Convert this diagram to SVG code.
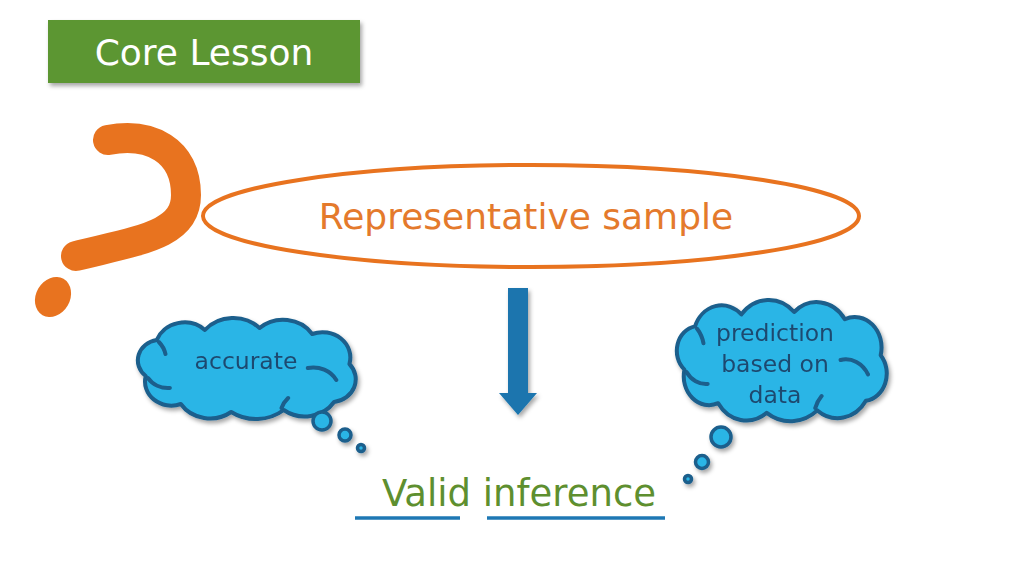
<svg xmlns="http://www.w3.org/2000/svg" width="1024" height="576" viewBox="0 0 1024 576">
<style>
.txt{font-family:"DejaVu Sans","Noto Sans",sans-serif}
.cloud{fill:#2bb5e6;stroke:#1a5e8c;stroke-width:4;stroke-linejoin:round}
.crease{fill:none;stroke:#1a5e8c;stroke-width:4;stroke-linecap:round}
.bub{fill:#2bb5e6;stroke:#1a5e8c;stroke-width:3.5}
.ctext{fill:#1f4a70;font-size:23.5px;text-anchor:middle}
.uline{stroke:#1e78b4;stroke-width:3.5}
</style>
<defs>
<filter id="sh" x="-10%" y="-10%" width="130%" height="140%">
<feDropShadow dx="2" dy="3" stdDeviation="2" flood-color="#000" flood-opacity="0.35"/>
</filter>
<path id="cloudShape" vector-effect="non-scaling-stroke" d="M8,58 A20.6,20.6 0 0 1 18,22 A27,27 0 0 1 62,12 A34,34 0 0 1 112,10 A32,32 0 0 1 160,16 A25.4,25.4 0 0 1 194,46 A23,23 0 0 1 180,84 A32,32 0 0 1 134,92 A40,40 0 0 1 86,94 A32,32 0 0 1 40,86 A24,24 0 0 1 8,58 Z"/>
<path id="creases" vector-effect="non-scaling-stroke" d="M156,50 A24,24 0 0 1 182,62 M10,60 A22,22 0 0 0 30,70 M20,24 A26,26 0 0 1 26,36 M132,90 A26,26 0 0 1 138,80"/>
</defs>

<g id="core-lesson">
<rect x="48" y="20" width="312" height="63" fill="#5b9633" filter="url(#sh)"/>
<text class="txt" x="204" y="65" font-size="36" fill="#ffffff" text-anchor="middle">Core Lesson</text>
</g>

<g id="question-mark" fill="none" stroke="#e8731f">
<path d="M108,140 C150,132 186,150 186,195 C186,235 140,240 76,256" stroke-width="30" stroke-linecap="round"/>
<ellipse cx="53" cy="297" rx="17" ry="21" transform="rotate(30 53 297)" fill="#e8731f" stroke="none"/>
</g>

<g id="representative-sample">
<ellipse cx="531" cy="216" rx="328" ry="51" fill="none" stroke="#e8731f" stroke-width="4"/>
<text class="txt" x="526" y="229" font-size="36" fill="#e47a2c" text-anchor="middle">Representative sample</text>
</g>

<g id="connectors">
<path d="M508,288 H528 V393 H537 L518,415 L499,393 H508 Z" fill="#1a75ae" filter="url(#sh)"/>
</g>

<g id="cloud-accurate" filter="url(#sh)">
<g transform="translate(137,318) scale(1.095,1.0)">
<use href="#cloudShape" class="cloud"/>
<use href="#creases" class="crease"/>
</g>
<circle class="bub" cx="322" cy="421" r="9"/>
<circle class="bub" cx="345" cy="435" r="6"/>
<circle class="bub" cx="361" cy="448" r="3.5"/>
<text class="txt ctext" x="246" y="369">accurate</text>
</g>

<g id="cloud-prediction" filter="url(#sh)">
<g transform="translate(676,300) scale(1.055,1.2)">
<use href="#cloudShape" class="cloud"/>
<use href="#creases" class="crease"/>
</g>
<circle class="bub" cx="721" cy="437" r="10"/>
<circle class="bub" cx="702" cy="462" r="6.5"/>
<circle class="bub" cx="688" cy="479" r="3.5"/>
<text class="txt ctext" x="775" y="341">prediction</text>
<text class="txt ctext" x="775" y="372">based on</text>
<text class="txt ctext" x="775" y="403">data</text>
</g>

<g id="valid-inference">
<text class="txt" x="519" y="506" font-size="37" fill="#5e8f2f" text-anchor="middle">Valid inference</text>
<line class="uline" x1="355" y1="518" x2="460" y2="518"/>
<line class="uline" x1="487" y1="518" x2="665" y2="518"/>
</g>
</svg>
